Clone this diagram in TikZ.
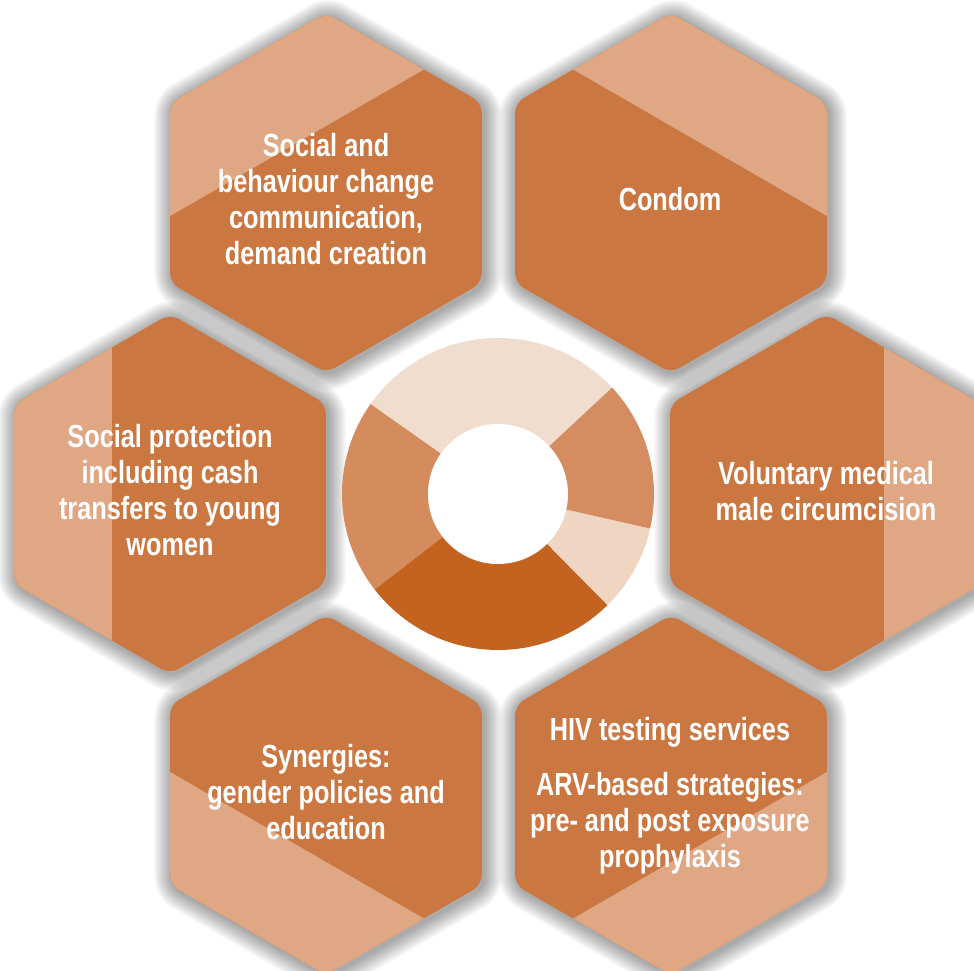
\documentclass[tikz,border=0pt]{standalone}
\usepackage{fontspec}
\newfontfamily\hexfont{Liberation Sans}[FakeStretch=0.79]
\usetikzlibrary{calc}
\definecolor{hexdark}{HTML}{CB7742}
\definecolor{hexlight}{HTML}{DFA784}
\definecolor{dTop}{HTML}{F0DDCE}
\definecolor{dLeft}{HTML}{D48B5E}
\definecolor{dBottom}{HTML}{C4621F}
\definecolor{dLowRight}{HTML}{EFD5C2}
\definecolor{dRight}{HTML}{D58C60}
\newcommand\hexoutline[2]{(#1,#2+180) -- (#1+155.88,#2+90) -- (#1+155.88,#2-90) -- (#1,#2-180) -- (#1-155.88,#2-90) -- (#1-155.88,#2+90) -- cycle}
\tikzset{
  hextext/.style={text=white, font=\hexfont\bfseries\fontsize{32}{36}\selectfont, anchor=base, inner sep=0pt},
  hexshadow/.style={draw=black, opacity=0.032, line join=round, rounded corners=10pt},
}
\newcommand\lines[1]{\begin{tabular}[t]{@{}c@{}}#1\end{tabular}}
\begin{document}
\begin{tikzpicture}[x=1pt,y=1pt]
\useasboundingbox (0,0) rectangle (974,970);
\clip (0,0) rectangle (974,970);
\fill[white] (0,0) rectangle (974,970);
% shadows
\foreach \cx/\cy in {326/777, 671/777, 170/476, 826/476, 326/175, 671/175}{
  \foreach \k in {1,...,12}{
    \pgfmathsetmacro\lw{3*\k}
    \draw[hexshadow, line width=\lw pt] \hexoutline{\cx+2}{\cy-2};
  }
}
% hexagons
\foreach \cx/\cy/\ang in {326/777/120, 671/777/60, 170/476/180, 826/476/0, 326/175/240, 671/175/300}{
  \fill[hexdark, rounded corners=10pt] \hexoutline{\cx}{\cy};
  \begin{scope}
    \clip[rounded corners=10pt] \hexoutline{\cx}{\cy};
    \begin{scope}[shift={(\cx,\cy)}, rotate=\ang]
      \fill[hexlight] (58,-260) rectangle (300,260);
    \end{scope}
  \end{scope}
}
% donut
\coordinate (D) at (498,476);
\fill[dTop] (D) -- ++(43:156) arc[start angle=43, end angle=144.8, radius=156] -- cycle;
\fill[dLeft] (D) -- ++(144.8:156) arc[start angle=144.8, end angle=217.8, radius=156] -- cycle;
\fill[dBottom] (D) -- ++(217.8:156) arc[start angle=217.8, end angle=314.6, radius=156] -- cycle;
\fill[dLowRight] (D) -- ++(314.6:156) arc[start angle=314.6, end angle=347.2, radius=156] -- cycle;
\fill[dRight] (D) -- ++(347.2:156) arc[start angle=347.2, end angle=403, radius=156] -- cycle;
\fill[white] (D) circle[radius=70];
% texts
\node[hextext] (t1) at (326,813) {\lines{Social and\\behaviour change\\communication,\\demand creation}};
\node[hextext] (t2) at (670,759) {\lines{Condom}};
\node[hextext] (t3) at (170,522) {\lines{Social protection\\including cash\\transfers to young\\women}};
\node[hextext] (t4) at (826,485) {\lines{Voluntary medical\\male circumcision}};
\node[hextext] (t5) at (326,203) {\lines{Synergies:\\gender policies and\\education}};
\node[hextext] (t6) at (670,230) {\lines{HIV testing services\\[19pt]ARV-based strategies:\\pre- and post exposure\\prophylaxis}};
\end{tikzpicture}
\end{document}
